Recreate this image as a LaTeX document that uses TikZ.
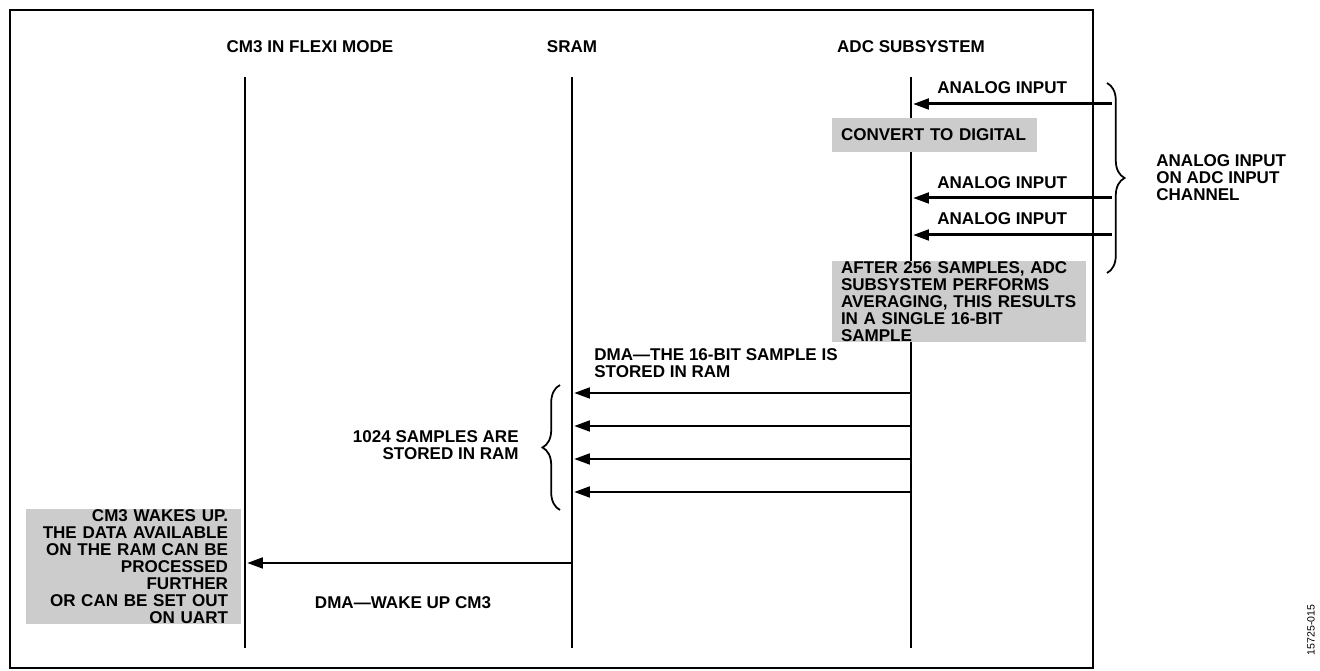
\documentclass[tikz,border=0pt]{standalone}
\usepackage{fontspec}
\setmainfont{Liberation Sans}
\usetikzlibrary{arrows.meta,decorations.pathreplacing}
\hyphenpenalty=10000
\begin{document}
\begin{tikzpicture}[x=0.02cm,y=-0.02cm,
  txt/.style={font=\fontsize{9.7}{9.7}\selectfont\bfseries,inner sep=0pt},
  box/.style={txt,fill=black!20,inner ysep=0pt},
  life/.style={line width=1.2pt},
  msg/.style={line width=1.7pt,-{Triangle[length=9pt,width=6pt]}},
  brc/.style={line width=1pt,decorate,decoration={brace,amplitude=10pt}}]
\useasboundingbox (0,0) rectangle (1320,671);
\draw[line width=1.6pt] (10,10) rectangle (1093,668);
% headers
\node[txt] (h1) at (310,47) {CM3 IN FLEXI MODE};
\node[txt] (h2) at (572,47) {SRAM};
\node[txt] (h3) at (911,47) {ADC SUBSYSTEM};
% lifelines
\coordinate (c1) at (245,77); \coordinate (c1e) at (245,648);
\coordinate (s1) at (572,77); \coordinate (s1e) at (572,648);
\coordinate (a1) at (911,77); \coordinate (a1e) at (911,648);
\draw[life] (c1) -- (c1e);
\draw[life] (s1) -- (s1e);
\draw[life] (a1) -- (a1e);
% boxes
\node[box,inner xsep=9*0.02cm,text width=187*0.02cm,align=left,minimum height=34*0.02cm] (conv) at (934.5,135) {CONVERT TO DIGITAL};
\node[box,inner xsep=9*0.02cm,text width=236*0.02cm,align=left,minimum height=81*0.02cm] (avg) at (959,301.5) {AFTER 256 SAMPLES, ADC\\SUBSYSTEM PERFORMS\\AVERAGING, THIS RESULTS\\IN A SINGLE 16-BIT SAMPLE};
\node[box,inner xsep=13*0.02cm,text width=189*0.02cm,align=right,minimum height=113*0.02cm] (wake) at (133.5,566.5) {CM3 WAKES UP.\\THE DATA AVAILABLE\\ON THE RAM CAN BE\\PROCESSED FURTHER\\OR CAN BE SET OUT\\ON UART};
% analog inputs
\coordinate (i1) at (1112,104); \coordinate (t1) at (913,104);
\coordinate (i2) at (1112,198); \coordinate (t2) at (913,198);
\coordinate (i3) at (1112,235); \coordinate (t3) at (913,235);
\draw[msg] (i1) -- (t1);
\draw[msg] (i2) -- (t2);
\draw[msg] (i3) -- (t3);
\node[txt,anchor=west] (l1) at (937,88) {ANALOG INPUT};
\node[txt,anchor=west] (l2) at (937,183) {ANALOG INPUT};
\node[txt,anchor=west] (l3) at (937,219) {ANALOG INPUT};
\draw[brc] (1107,83) -- (1107,273);
\node[txt,anchor=west,align=left] (bt) at (1156,178) {ANALOG INPUT\\ON ADC INPUT\\CHANNEL};
% DMA
\node[txt,anchor=west,align=left] (dl) at (594,363.5) {DMA—THE 16-BIT SAMPLE IS\\STORED IN RAM};
\foreach \y/\n in {393/1,426/2,459/3,492/4}{
  \coordinate (d\n) at (911,\y); \coordinate (e\n) at (574,\y);
  \draw[msg] (d\n) -- (e\n);}
\draw[brc] (560,510) -- (560,385);
\node[txt,anchor=east,align=right] (st) at (519,445.5) {1024 SAMPLES ARE\\STORED IN RAM};
% wake up
\coordinate (w1) at (572,563); \coordinate (w2) at (247,563);
\draw[msg] (w1) -- (w2);
\node[txt] (wl) at (403,603) {DMA—WAKE UP CM3};
\node[font=\fontsize{6}{6}\selectfont,rotate=90,inner sep=0pt] (fig) at (1311,630) {15725-015};
\end{tikzpicture}
\end{document}
